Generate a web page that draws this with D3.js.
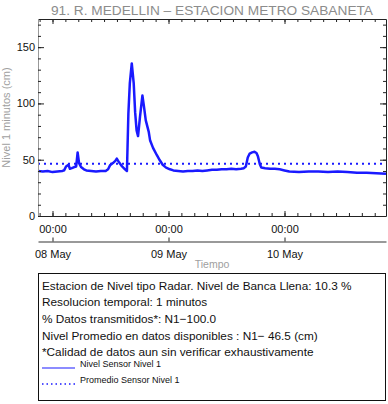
<!DOCTYPE html>
<html>
<head>
<meta charset="utf-8">
<script src="https://cdn.jsdelivr.net/npm/d3@7"></script>
<style>
  body { margin: 0; background: #fff; }
  svg { display: block; font-family: "Liberation Sans", Arial, Helvetica, sans-serif; }
</style>
</head>
<body>
<div id="chart"></div>
<script>
// hours after 07 May 21:00 and level (cm)
const hours = [0, 1, 2, 3, 4, 5, 5.4, 5.8, 6.3, 6.6, 7.0, 7.5, 7.9, 8.2, 8.5, 8.9, 9.5, 10, 11, 12, 13, 14,
  14.5, 14.9, 15.5, 16.0, 16.3, 16.8, 17.4, 18.0, 18.4, 18.7, 19.0, 19.4, 19.8, 20.1, 20.4, 20.7, 21.1, 21.6,
  21.9, 22.3, 22.9, 23.2, 23.8, 24.6, 25.2, 25.8, 26.5, 27.3, 28, 29, 30, 31, 32, 33, 34, 35, 36, 37, 38, 39,
  40, 41, 42, 42.6, 43.0, 43.4, 43.8, 44.3, 44.8, 45.2, 45.5, 45.9, 46.2, 47, 48, 49, 50, 51, 52, 54, 56, 58,
  60, 62, 64, 66, 68, 70, 72];
const levels = [40, 39.5, 40, 39, 39.5, 40, 40.5, 44, 45.5, 42, 42.5, 43.5, 44, 56.5, 47, 43.5, 41.5, 40.5, 40, 39.5, 40, 40,
  41.5, 45, 47, 49, 51, 47.5, 44, 41.5, 40, 91, 118, 135.5, 118, 92, 76, 71, 88, 107,
  98, 85, 75, 67, 60.5, 54, 49.5, 45.5, 43, 41.5, 40.5, 40, 39.5, 40, 40, 40.5, 40, 40.5, 41, 41, 41.5, 41.5,
  42, 41.5, 42, 42.5, 44, 52, 55.5, 56.5, 57, 56, 53, 46, 43, 42.5, 42, 42, 41.5, 40.5, 39.5, 39, 39.5, 39.5,
  39, 39.5, 39, 38.5, 38.5, 38, 37.5];
const meanLevel = 46.5;

const titleText = "91. R. MEDELLIN \u2013 ESTACION METRO SABANETA";
const yTitle = "Nivel 1 minutos (cm)";
const xTitle = "Tiempo";
const infoLines = [
  "Estacion de Nivel tipo Radar. Nivel de Banca Llena: 10.3 %",
  "Resolucion temporal: 1 minutos",
  "% Datos transmitidos*: N1\u2212100.0",
  "Nivel Promedio en datos disponibles : N1\u2212 46.5 (cm)",
  "*Calidad de datos aun sin verificar exhaustivamente"
];
const legendLabels = ["Nivel Sensor Nivel 1", "Promedio Sensor Nivel 1"];

const W = 388, H = 404;
const m = {left: 38, right: 386, top: 19, bottom: 216};
const start = new Date(Date.UTC(2023, 4, 7, 21));
const end = new Date(Date.UTC(2023, 4, 10, 21));
const toDate = h => new Date(start.getTime() + h * 3600000);

const svg = d3.select("#chart").append("svg").attr("width", W).attr("height", H);

const x = d3.scaleUtc().domain([start, end]).range([m.left, m.right]);
const y = d3.scaleLinear().domain([0, 175]).range([m.bottom, m.top]);

// tick positions: midnights and every 160 min
const midnight0 = Date.UTC(2023, 4, 7);
const minorT = d3.range(0, 40).map(i => new Date(midnight0 + i * 160 * 60000))
  .filter(d => d > start && d < end);
const majorT = d3.utcDay.range(start, end);
const yMinor = d3.range(0, 176, 10);
const yMajor = [0, 50, 100, 150];

// series
const line = d3.line().x((d, i) => x(toDate(hours[i]))).y(d => y(d));
svg.append("path").datum(levels)
  .attr("fill", "none").attr("stroke", "#1a1aff").attr("stroke-width", 2.5)
  .attr("stroke-linejoin", "round").attr("d", line);

svg.append("line")
  .attr("x1", m.left).attr("x2", m.right)
  .attr("y1", y(meanLevel)).attr("y2", y(meanLevel))
  .attr("stroke", "#1a1aff").attr("stroke-width", 2).attr("stroke-dasharray", "2,4");

// axes
function styleAxis(g, col) {
  g.selectAll(".domain").attr("stroke", col || "#222");
  g.selectAll(".tick line").attr("stroke", "#222");
  g.selectAll("text").attr("fill", "#111").style("font-size", "11px").style("font-family", null);
}
svg.append("g").attr("transform", `translate(0,${m.bottom})`)
  .call(d3.axisBottom(x).tickValues(minorT).tickSize(-3).tickSizeOuter(0).tickFormat(""))
  .call(g => styleAxis(g));
svg.append("g").attr("transform", `translate(0,${m.bottom})`)
  .call(d3.axisBottom(x).tickValues(majorT).tickSize(-5).tickSizeOuter(0).tickPadding(9).tickFormat(d3.utcFormat("%H:%M")))
  .call(g => { styleAxis(g); g.select(".domain").remove(); });
svg.append("g").attr("transform", `translate(0,${m.top})`)
  .call(d3.axisTop(x).tickValues(minorT).tickSize(-3).tickSizeOuter(0).tickFormat(""))
  .call(g => styleAxis(g));
svg.append("g").attr("transform", `translate(0,${m.top})`)
  .call(d3.axisTop(x).tickValues(majorT).tickSize(-5).tickSizeOuter(0).tickFormat(""))
  .call(g => { styleAxis(g); g.select(".domain").remove(); });

svg.append("g").attr("transform", `translate(${m.left},0)`)
  .call(d3.axisLeft(y).tickValues(yMinor).tickSize(-3).tickSizeOuter(0).tickFormat(""))
  .call(g => styleAxis(g, "#999"));
svg.append("g").attr("transform", `translate(${m.left},0)`)
  .call(d3.axisLeft(y).tickValues(yMajor).tickSize(-6).tickSizeOuter(0).tickPadding(3).tickFormat(d3.format("d")))
  .call(g => { styleAxis(g); g.select(".domain").remove(); });
svg.append("g").attr("transform", `translate(${m.right},0)`)
  .call(d3.axisRight(y).tickValues(yMinor).tickSize(-3).tickSizeOuter(0).tickFormat(""))
  .call(g => styleAxis(g));
svg.append("g").attr("transform", `translate(${m.right},0)`)
  .call(d3.axisRight(y).tickValues(yMajor).tickSize(-6).tickSizeOuter(0).tickFormat(""))
  .call(g => { styleAxis(g); g.select(".domain").remove(); });

// date axis
const dateAxis = svg.append("g").attr("transform", "translate(0,241.5)")
  .call(d3.axisBottom(x).tickValues(majorT).tickSize(-4).tickSizeOuter(0).tickPadding(9).tickFormat(d3.utcFormat("%d %b")));
styleAxis(dateAxis, "#999");
dateAxis.select(".domain").attr("stroke-width", 2);

// titles
svg.append("text").attr("x", 212).attr("y", 15).attr("text-anchor", "middle")
  .attr("fill", "#8c8c8c").style("font-size", "13.7px").text(titleText);
svg.append("text").attr("transform", `translate(9.5,${(m.top + m.bottom) / 2}) rotate(-90)`)
  .attr("text-anchor", "middle").attr("fill", "#a0a0a0").style("font-size", "11px").text(yTitle);
svg.append("text").attr("x", 212).attr("y", 268).attr("text-anchor", "middle")
  .attr("fill", "#a0a0a0").style("font-size", "10.5px").text(xTitle);

// info box
const box = svg.append("g");
box.append("rect").attr("x", 38.5).attr("y", 273.5).attr("width", 347).attr("height", 127)
  .attr("fill", "none").attr("stroke", "#111").attr("stroke-width", 1);
box.selectAll("text.info").data(infoLines).enter().append("text")
  .attr("class", "info").attr("x", 42).attr("y", (d, i) => 289.5 + i * 16.7)
  .attr("fill", "#111").style("font-size", "11.8px").text(d => d);
const legY = [368, 384];
legendLabels.forEach((lab, i) => {
  box.append("line").attr("x1", 42).attr("x2", 75).attr("y1", legY[i]).attr("y2", legY[i])
    .attr("stroke", "#1a1aff").attr("stroke-width", i === 0 ? 1.2 : 1.5)
    .attr("stroke-dasharray", i === 0 ? null : "1.5,3");
  box.append("text").attr("x", 80).attr("y", legY[i] - 1).attr("fill", "#111")
    .style("font-size", "9px").text(lab);
});
</script>
</body>
</html>
